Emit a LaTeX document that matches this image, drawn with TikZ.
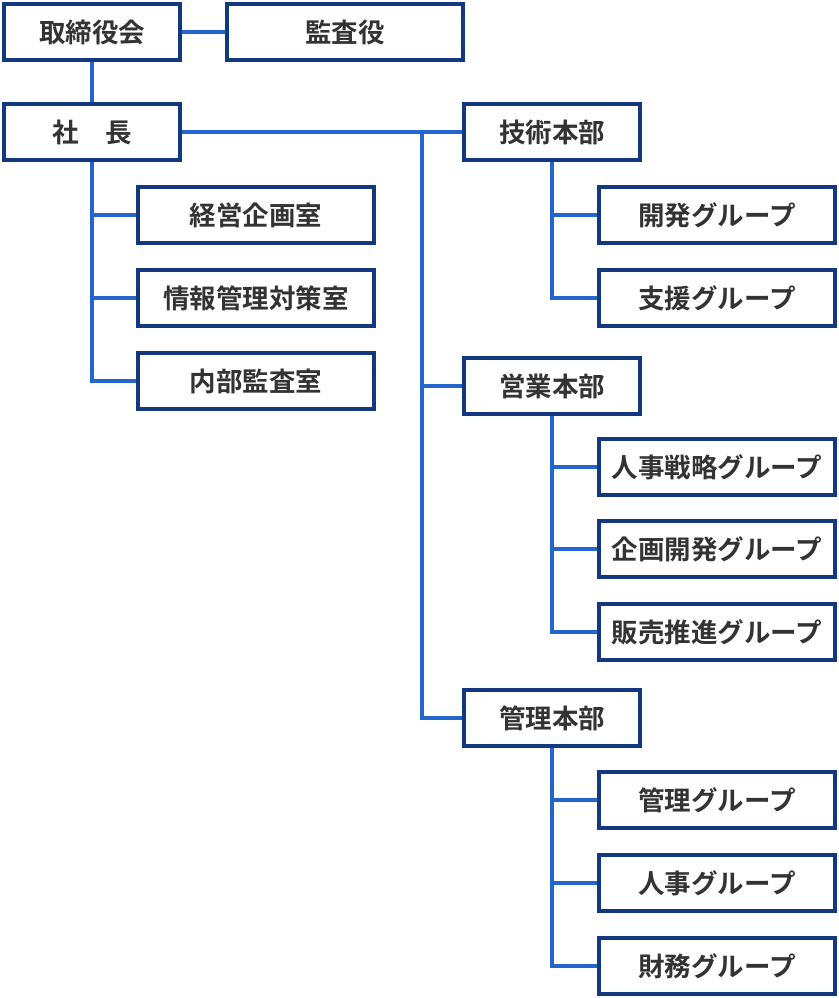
\documentclass[tikz,border=0pt]{standalone}
\usepackage{fontspec}
\newfontfamily\jpfont{Noto Sans CJK JP}[BoldFont={* Bold}]
\usepackage{tikz}
\usetikzlibrary{backgrounds}

\definecolor{boxnavy}{RGB}{18,56,128}
\definecolor{linkblue}{RGB}{36,102,206}
\definecolor{textgray}{RGB}{51,51,51}

\begin{document}
\begin{tikzpicture}[x=1pt, y=1pt,
    orgbox/.style={draw=boxnavy, line width=4pt, fill=white, text=textgray,
        font=\jpfont\bfseries\fontsize{26.5}{30}\selectfont,
        minimum height=56pt, inner sep=0pt},
    small/.style={orgbox, minimum width=176pt},
    wide/.style={orgbox, minimum width=236pt},
    link/.style={linkblue, line width=4pt}]
    \useasboundingbox (0, 0) rectangle (838, -998);

    % Board and president
    \node[small] (board) at (92, -32) {取締役会};
    \node[wide] (auditor) at (345, -32) {監査役};
    \node[small] (president) at (92, -132) {社　長};

    % Offices under the president
    \node[wide] (planning) at (256, -215) {経営企画室};
    \node[wide] (infosec) at (256, -298) {情報管理対策室};
    \node[wide] (audit) at (256, -381) {内部監査室};

    % Divisions
    \node[small] (tech) at (552, -132) {技術本部};
    \node[small] (sales) at (552, -386) {営業本部};
    \node[small] (admin) at (552, -718) {管理本部};

    % Groups
    \node[wide] (dev) at (717, -215) {開発グループ};
    \node[wide] (support) at (717, -298) {支援グループ};
    \node[wide] (hrplan) at (717, -467) {人事戦略グループ};
    \node[wide] (plandev) at (717, -549) {企画開発グループ};
    \node[wide] (salespro) at (717, -632) {販売推進グループ};
    \node[wide] (mgmt) at (717, -800) {管理グループ};
    \node[wide] (hr) at (717, -883) {人事グループ};
    \node[wide] (finance) at (717, -966) {財務グループ};

    % Connectors
    \begin{scope}[on background layer]
    \draw[link] (board.east) -- (auditor.west);
    \draw[link] (board.south) -- (president.north);
    \draw[link] (president.south) |- (planning.west);
    \draw[link] (president.south) |- (infosec.west);
    \draw[link] (president.south) |- (audit.west);
    \draw[link] (president.east) -- (tech.west);
    \coordinate (trunk) at (422, -132);
    \draw[link] (trunk) |- (sales.west);
    \draw[link] (trunk) |- (admin.west);
    \draw[link] (tech.south) |- (dev.west);
    \draw[link] (tech.south) |- (support.west);
    \draw[link] (sales.south) |- (hrplan.west);
    \draw[link] (sales.south) |- (plandev.west);
    \draw[link] (sales.south) |- (salespro.west);
    \draw[link] (admin.south) |- (mgmt.west);
    \draw[link] (admin.south) |- (hr.west);
    \draw[link] (admin.south) |- (finance.west);
    \end{scope}
\end{tikzpicture}
\end{document}
